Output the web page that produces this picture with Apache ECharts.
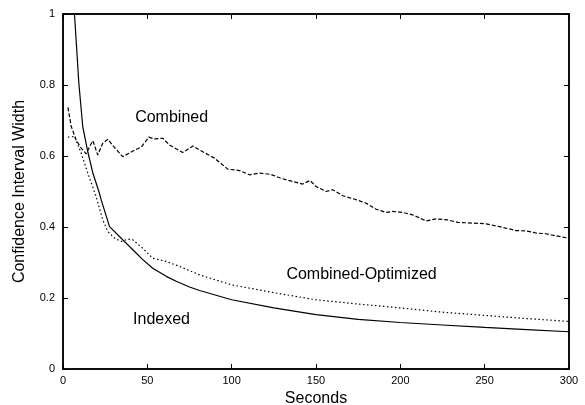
<!DOCTYPE html>
<html>
<head>
<meta charset="utf-8">
<script src="https://cdn.jsdelivr.net/npm/echarts@6/dist/echarts.min.js"></script>
<style>html,body{margin:0;padding:0;background:#fff}#c{width:585px;height:405px}</style>
</head>
<body>
<div id="c"></div>
<script>
const xTicks = [0, 50, 100, 150, 200, 250, 300];
const yTicks = [0, 0.2, 0.4, 0.6, 0.8, 1];

const indexed = [
  [5, 1.1], [6.8, 1.0], [9.4, 0.805], [11.7, 0.683], [14.7, 0.612], [17.7, 0.552],
  [21.6, 0.495], [22.6, 0.477], [27.6, 0.401], [35.4, 0.364], [41.4, 0.336],
  [47.3, 0.308], [53.2, 0.284], [61.2, 0.261], [67.1, 0.247], [75, 0.231],
  [81, 0.221], [100, 0.195], [125, 0.172], [150, 0.153], [175, 0.140],
  [200, 0.131], [225, 0.124], [250, 0.117], [275, 0.111], [300, 0.105]
];

const combinedOptimized = [
  [2.9, 0.653], [6.8, 0.655], [10.8, 0.608], [14.7, 0.552], [19.6, 0.486],
  [23.6, 0.420], [26.6, 0.387], [30.5, 0.369], [34.5, 0.359], [38.4, 0.366],
  [41.4, 0.364], [47.3, 0.340], [53.2, 0.312], [61.2, 0.303], [69.1, 0.289],
  [81, 0.265], [100, 0.237], [125, 0.215], [150, 0.195], [175, 0.183],
  [200, 0.172], [225, 0.160], [250, 0.151], [275, 0.142], [300, 0.134]
];

const combined = [
  [2.9, 0.737], [4.9, 0.683], [7.8, 0.645], [10.8, 0.622], [13.8, 0.606],
  [15.8, 0.627], [17.7, 0.643], [20.6, 0.603], [23.6, 0.636], [26.6, 0.647],
  [30.5, 0.624], [35.4, 0.598], [41.4, 0.614], [46.4, 0.625], [50.9, 0.653],
  [54.2, 0.648], [59.2, 0.650], [63.1, 0.631], [71, 0.610], [77, 0.628],
  [82.9, 0.612], [89.8, 0.594], [97.7, 0.563], [104.6, 0.559], [110.6, 0.547],
  [116.5, 0.552], [123.4, 0.548], [129.3, 0.537], [136.2, 0.528], [142.1, 0.521],
  [146.5, 0.531], [150, 0.514], [156, 0.500], [159.9, 0.505], [165.9, 0.488],
  [173.8, 0.477], [179.7, 0.467], [185.7, 0.450], [191.6, 0.441], [195.5, 0.444],
  [201.5, 0.441], [207.4, 0.434], [215.3, 0.417], [221.2, 0.423], [228.1, 0.420],
  [234, 0.413], [243, 0.411], [250.9, 0.409], [258.8, 0.401], [268.6, 0.390],
  [274.6, 0.389], [280.5, 0.383], [286.4, 0.381], [292.4, 0.375], [299.2, 0.369]
];

const annotations = [
  { text: 'Combined', x: 64.4, y: 0.709 },
  { text: 'Combined-Optimized', x: 177, y: 0.265 },
  { text: 'Indexed', x: 58.4, y: 0.139 }
];

const FONT = '"Liberation Sans", Arial, Helvetica, sans-serif';
const chart = echarts.init(document.getElementById('c'), null, { renderer: 'canvas' });

const axisLine = { show: true, onZero: false, lineStyle: { color: '#000', width: 1.5 } };
const tick = { show: true, inside: true, length: 5, lineStyle: { color: '#000', width: 1 } };

const option = {
  animation: false,
  backgroundColor: '#fff',
  grid: { left: 63, right: 16, top: 14, bottom: 36, containLabel: false, outerBoundsMode: 'none',
    show: true, borderColor: '#000', borderWidth: 1.5, backgroundColor: 'transparent' },
  xAxis: [
    {
      type: 'value', min: xTicks[0], max: xTicks[xTicks.length - 1], interval: 50,
      name: 'Seconds', nameLocation: 'middle', nameGap: 18,
      nameTextStyle: { fontFamily: FONT, fontSize: 16, color: '#000' },
      axisLine, axisTick: tick, splitLine: { show: false },
      axisLabel: { fontFamily: FONT, fontSize: 11, color: '#000', margin: 6 }
    },
    {
      type: 'value', position: 'top', min: xTicks[0], max: xTicks[xTicks.length - 1], interval: 50,
      show: true, axisLine, axisTick: tick, splitLine: { show: false }, axisLabel: { show: false }
    }
  ],
  yAxis: [
    {
      type: 'value', min: yTicks[0], max: yTicks[yTicks.length - 1], interval: 0.2,
      name: 'Confidence Interval Width', nameLocation: 'middle', nameGap: 35,
      nameTextStyle: { fontFamily: FONT, fontSize: 16, color: '#000' },
      axisLine, axisTick: tick, splitLine: { show: false },
      axisLabel: { fontFamily: FONT, fontSize: 11, color: '#000', margin: 8,
        formatter: v => (v === 0 || v === 1) ? String(v) : v.toFixed(1) }
    },
    {
      type: 'value', position: 'right', min: yTicks[0], max: yTicks[yTicks.length - 1], interval: 0.2,
      show: true, axisLine, axisTick: tick, splitLine: { show: false }, axisLabel: { show: false }
    }
  ],
  series: [
    { name: 'Indexed', type: 'line', data: indexed, showSymbol: false, smooth: false, clip: true,
      lineStyle: { color: '#000', width: 1.2, type: 'solid' } },
    { name: 'Combined-Optimized', type: 'line', data: combinedOptimized, showSymbol: false, clip: true,
      lineStyle: { color: '#000', width: 1.2, type: [1.5, 2.5] } },
    { name: 'Combined', type: 'line', data: combined, showSymbol: false, clip: true,
      lineStyle: { color: '#000', width: 1.2, type: [4, 2] } },
    { name: 'frame', type: 'line', xAxisIndex: 1, yAxisIndex: 1, data: [], showSymbol: false, silent: true }
  ]
};
chart.setOption(option);

const graphics = annotations.map(a => {
  const p = chart.convertToPixel({ xAxisIndex: 0, yAxisIndex: 0 }, [a.x, a.y]);
  return { type: 'text', x: p[0], y: p[1],
    style: { text: a.text, fontFamily: FONT, fontSize: 16, fill: '#000', textAlign: 'center', textVerticalAlign: 'middle' } };
});
chart.setOption({ graphic: graphics });
</script>
</body>
</html>
